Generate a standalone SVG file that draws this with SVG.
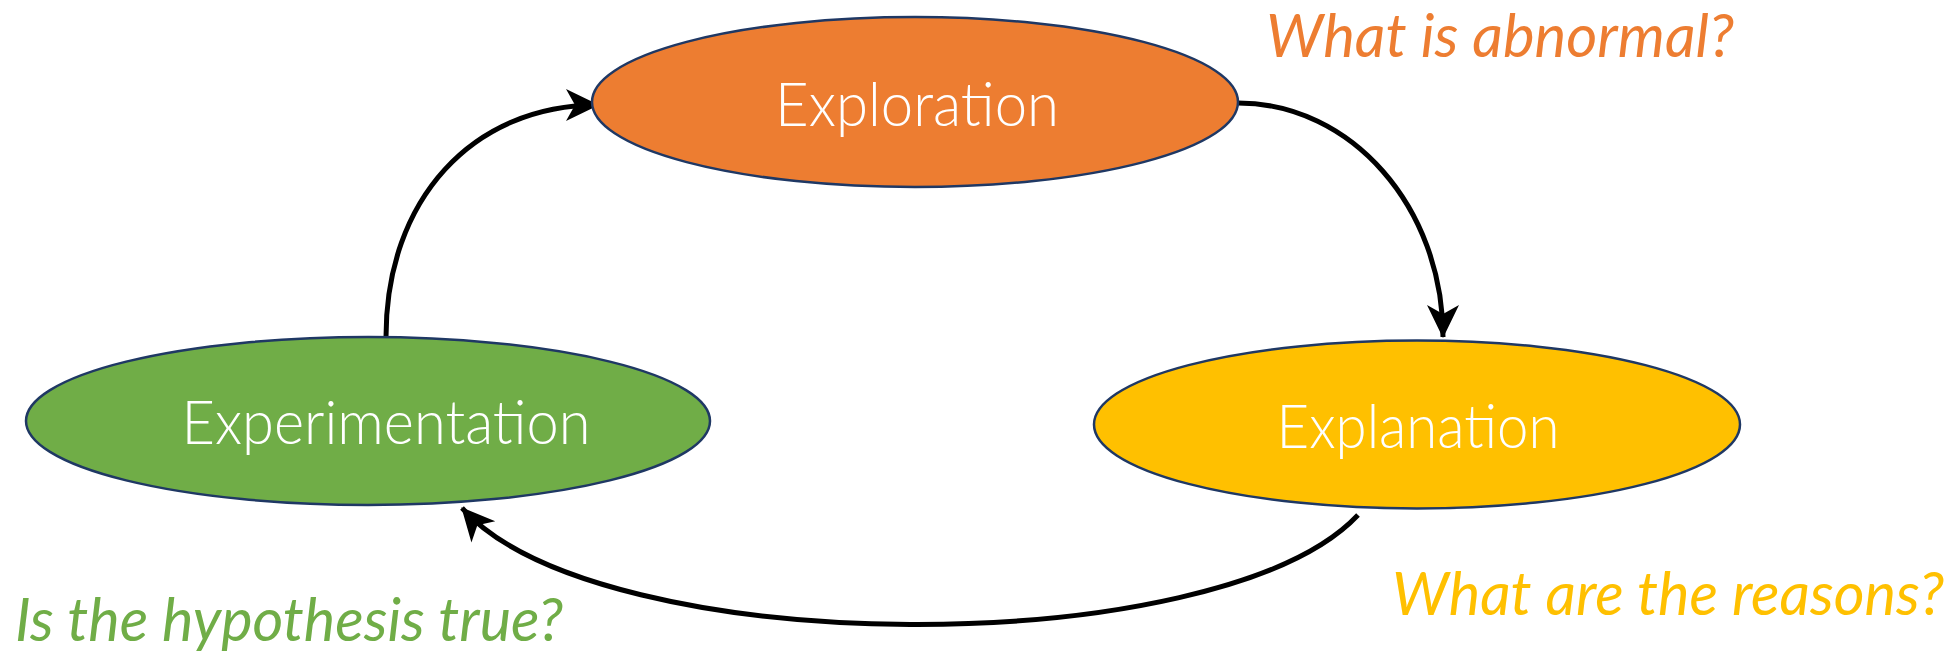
<svg xmlns="http://www.w3.org/2000/svg" width="1959" height="654" viewBox="0 0 1959 654">
<style>
.node{stroke:#1F3864;stroke-width:2.5}
.lbl{font-family:Lato,"Liberation Sans",sans-serif;font-weight:300;font-size:62px;fill:#ffffff}
.q{font-family:Lato,"Liberation Sans",sans-serif;font-style:italic;font-size:60px}
.conn{fill:none;stroke:#000000;stroke-width:5}
</style>
<defs>
<marker id="arr" markerUnits="userSpaceOnUse" markerWidth="36" markerHeight="36" refX="32" refY="16" orient="auto" viewBox="0 0 36 32" overflow="visible">
<path d="M0,0 L33,16 L0,32 L9,16 Z" fill="#000000"/>
</marker>
</defs>
<rect x="0" y="0" width="1959" height="654" fill="#ffffff"/>
<g id="connectors">
<path class="conn" d="M386,337 C386,200 472,105 598,105" marker-end="url(#arr)"/>
<path class="conn" d="M1238,103 C1351,103 1443,207 1443,337" marker-end="url(#arr)"/>
<path class="conn" d="M1358,515 C1220,662 600,662 462,508" marker-end="url(#arr)"/>
</g>
<g id="node-exploration">
<ellipse class="node" cx="915" cy="102" rx="323" ry="85" fill="#ED7D31"/>
<text class="lbl" x="917" y="126" text-anchor="middle" textLength="284" lengthAdjust="spacingAndGlyphs">Exploration</text>
</g>
<g id="node-experimentation">
<ellipse class="node" cx="368" cy="421" rx="342" ry="84" fill="#70AD47"/>
<text class="lbl" x="386" y="444" text-anchor="middle" textLength="409" lengthAdjust="spacingAndGlyphs">Experimentation</text>
</g>
<g id="node-explanation">
<ellipse class="node" cx="1417" cy="424.5" rx="323" ry="84" fill="#FFC000"/>
<text class="lbl" x="1418" y="448" text-anchor="middle" textLength="283" lengthAdjust="spacingAndGlyphs">Explanation</text>
</g>
<g id="questions">
<text class="q" x="1266" y="57" fill="#ED7D31" textLength="468" lengthAdjust="spacingAndGlyphs">What is abnormal?</text>
<text class="q" x="1392" y="615" fill="#FFC000" textLength="552" lengthAdjust="spacingAndGlyphs">What are the reasons?</text>
<text class="q" x="15" y="641" fill="#70AD47" textLength="548" lengthAdjust="spacingAndGlyphs">Is the hypothesis true?</text>
</g>
</svg>
